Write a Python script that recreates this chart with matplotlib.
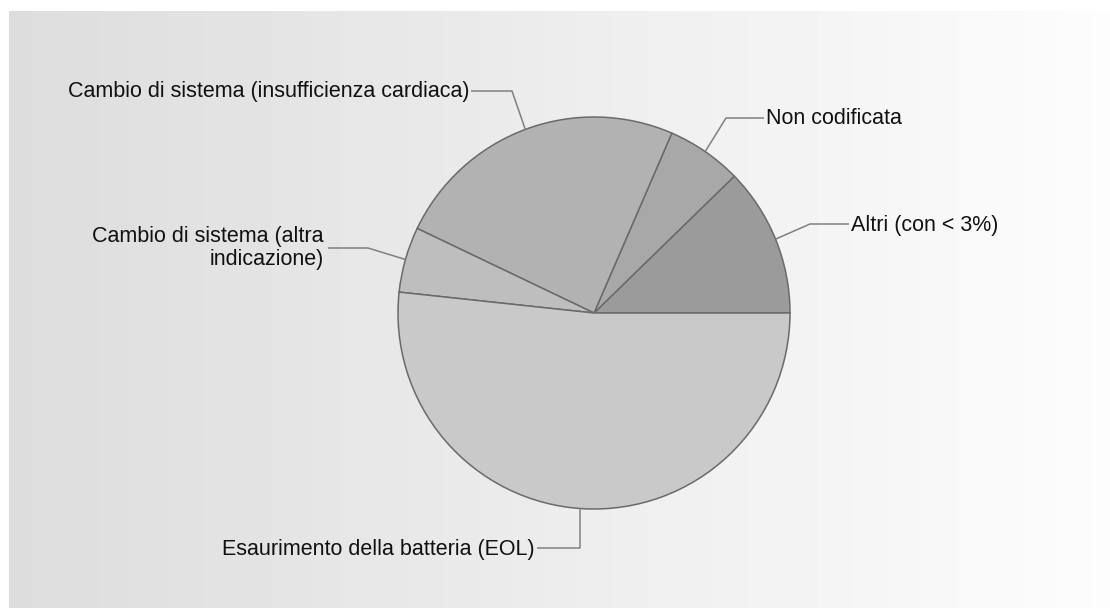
import numpy as np
import matplotlib.pyplot as plt

labels = ["Altri (con < 3%)", "Non codificata",
          "Cambio di sistema (insufficienza cardiaca)",
          "Cambio di sistema (altra\nindicazione)",
          "Esaurimento della batteria (EOL)"]
values = [12.3, 6.2, 24.4, 5.4, 51.7]
colors = ["#9b9b9b", "#a8a8a8", "#b2b2b2", "#bebebe", "#c9c9c9"]

W, H = 1110, 608
fig = plt.figure(figsize=(W / 100, H / 100), dpi=100)
ax = fig.add_axes([0, 0, 1, 1])

# background gradient panel (grey on the left, white on the right)
grad = np.linspace(0.865, 0.99, 256).reshape(1, -1)
ax.imshow(grad, cmap="gray", vmin=0, vmax=1, aspect="auto",
          extent=[9, W, 0, H - 11], zorder=0)

cx, cy, r = 594, H - 313, 196
wedges, _ = ax.pie(values, colors=colors, startangle=0, counterclock=True,
                   center=(cx, cy), radius=r, frame=True,
                   wedgeprops=dict(edgecolor="#6a6a6a", linewidth=1.1))
ax.set_xlim(0, W)
ax.set_ylim(0, H)
ax.set_aspect("equal")
ax.axis("off")

# elbow point, end of line, text position, alignment (pixel coords from top)
layout = [
    ((810, 224), (849, 224), (851, 225), "left"),
    ((726, 118), (764, 118), (766, 119), "left"),
    ((512, 91), (471, 91), (469, 92), "right"),
    ((368, 248), (328, 248), (324, 248), "right"),
    ((580, 548), (537, 548), (535, 550), "right"),
]

for w, lab, (elbow, end, tpos, ha) in zip(wedges, labels, layout):
    mid = np.deg2rad((w.theta1 + w.theta2) / 2)
    px = cx + r * np.cos(mid)
    py = cy + r * np.sin(mid)
    ex, ey = elbow[0], H - elbow[1]
    if lab.startswith("Esaurimento"):
        px = ex
        py = cy - np.sqrt(r ** 2 - (ex - cx) ** 2)
    ax.plot([px, ex, end[0]], [py, ey, H - end[1]], color="#808080",
            lw=1.1, zorder=3, solid_capstyle="butt")
    ax.text(tpos[0], H - tpos[1], lab, ha=ha, va="center", fontsize=15.5,
            family="Liberation Sans", color="#111111",
            multialignment="right", linespacing=1.08)

fig.savefig("out.png", dpi=100)
